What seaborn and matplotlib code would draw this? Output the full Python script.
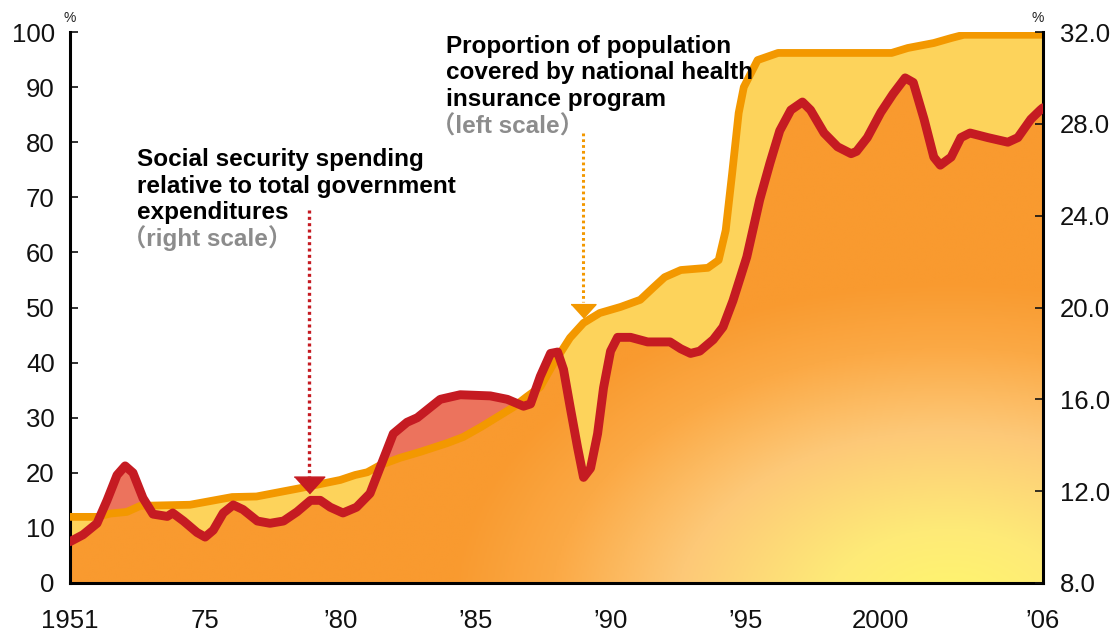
import numpy as np
import matplotlib
matplotlib.use("Agg")
import matplotlib.pyplot as plt
from matplotlib.colors import LinearSegmentedColormap
import seaborn as sns

# Proportion of population covered by national health insurance (left scale, %)
coverage_years = [1970.0, 1971.0, 1971.48, 1972.1, 1972.6, 1974.44, 1975.0, 1976.0, 1976.9,
                  1978.5, 1980.0, 1980.55, 1981.0, 1981.48, 1982.2, 1982.96, 1983.96, 1984.55,
                  1985.2, 1985.8, 1986.4, 1986.9, 1987.4, 1987.9, 1988.5, 1989.0, 1989.6,
                  1990.37, 1991.1, 1991.6, 1992.0, 1992.6, 1993.6, 1994.0, 1994.26, 1994.5,
                  1994.74, 1994.93, 1995.44, 1996.2, 2000.4, 2001.0, 2001.96, 2002.6, 2003.07,
                  2006.0]
coverage_pct = [12.0, 12.0, 12.6, 12.9, 14.0, 14.2, 14.7, 15.6, 15.7,
                17.2, 18.7, 19.6, 20.1, 21.4, 22.7, 23.8, 25.4, 26.5,
                28.3, 30.1, 31.9, 33.8, 35.6, 39.9, 44.5, 47.2, 49.0,
                50.1, 51.4, 53.7, 55.5, 56.8, 57.2, 58.6, 64.0, 74.4,
                85.3, 90.0, 94.9, 96.2, 96.2, 97.1, 98.0, 98.9, 99.5,
                99.5]

# Social security spending relative to total government expenditures (right scale, %)
spending_years = [1970.0, 1970.48, 1971.0, 1971.37, 1971.74, 1972.04, 1972.33, 1972.7, 1973.07,
                  1973.6, 1973.8, 1974.2, 1974.7, 1975.0, 1975.3, 1975.67, 1976.04, 1976.4,
                  1976.93, 1977.4, 1977.9, 1978.4, 1978.9, 1979.26, 1979.63, 1980.1, 1980.6,
                  1981.1, 1981.48, 1981.96, 1982.47, 1982.85, 1983.7, 1984.44, 1985.55, 1986.18,
                  1986.78, 1987.04, 1987.4, 1987.78, 1988.04, 1988.26, 1988.5, 1988.78, 1989.0,
                  1989.26, 1989.52, 1989.74, 1990.0, 1990.26, 1990.74, 1991.37, 1992.2, 1992.6,
                  1992.96, 1993.3, 1993.8, 1994.16, 1994.53, 1995.04, 1995.52, 1995.9, 1996.26,
                  1996.67, 1997.1, 1997.4, 1997.9, 1998.4, 1998.9, 1999.1, 1999.5, 2000.0,
                  2000.45, 2000.9, 2001.2, 2001.6, 2001.96, 2002.2, 2002.6, 2002.96, 2003.3,
                  2003.96, 2004.7, 2005.07, 2005.55, 2005.9, 2006.0]
spending_pct = [9.8, 10.1, 10.6, 11.6, 12.7, 13.1, 12.8, 11.7, 11.0,
                10.9, 11.05, 10.7, 10.2, 10.0, 10.3, 11.05, 11.4, 11.2,
                10.7, 10.6, 10.7, 11.1, 11.6, 11.6, 11.3, 11.05, 11.3,
                11.9, 13.05, 14.5, 15.0, 15.2, 16.0, 16.2, 16.15, 16.0,
                15.7, 15.8, 17.0, 18.0, 18.06, 17.3, 15.7, 13.9, 12.6,
                13.0, 14.5, 16.5, 18.1, 18.7, 18.7, 18.5, 18.5, 18.2,
                18.0, 18.1, 18.6, 19.15, 20.3, 22.2, 24.7, 26.3, 27.7,
                28.6, 28.95, 28.6, 27.6, 27.0, 26.7, 26.8, 27.4, 28.5,
                29.3, 30.0, 29.8, 28.2, 26.55, 26.2, 26.55, 27.4, 27.6,
                27.4, 27.2, 27.4, 28.2, 28.6, 28.7]

# Axis ticks and labels
x_tick_years = [1970, 1975, 1980, 1985, 1990, 1995, 2000, 2006]
x_tick_labels = ["1951", "75", "\u201980", "\u201985", "\u201990", "\u201995", "2000", "\u201906"]
left_ticks = list(range(0, 101, 10))
right_ticks = [8.0, 12.0, 16.0, 20.0, 24.0, 28.0, 32.0]

# Annotation texts
spending_label = ["Social security spending", "relative to total government", "expenditures"]
spending_scale = "\uff08right scale\uff09"
coverage_label = ["Proportion of population", "covered by national health", "insurance program"]
coverage_scale = "\uff08left scale\uff09"

ORANGE = "#F39800"
RED = "#C51B22"
YELLOW_FILL = "#FDD35B"
SALMON_FILL = "#EC735D"

sns.set_theme(style="white")
plt.rcParams["font.family"] = ["Liberation Sans", "Noto Sans CJK JP", "DejaVu Sans"]

W, H = 1117, 633
fig = plt.figure(figsize=(W / 100, H / 100), dpi=100)
fig.patch.set_facecolor("white")
ax = fig.add_axes([70 / W, (H - 583) / H, 973 / W, 551 / H])
ax2 = ax.twinx()

XMIN, XMAX = 1970, 2006
LMIN, LMAX = 0, 100
RMIN, RMAX = 8.0, 32.0
ax.set_xlim(XMIN, XMAX)
ax.set_ylim(LMIN, LMAX)
ax2.set_ylim(RMIN, RMAX)

# Common grid for the area fills (right-scale series expressed in left-scale units)
xs = np.linspace(XMIN, XMAX, 3000)
cov_i = np.interp(xs, coverage_years, coverage_pct)
sp_i = np.interp(xs, spending_years, spending_pct)
sp_left = (sp_i - RMIN) / (RMAX - RMIN) * (LMAX - LMIN) + LMIN
lower = np.minimum(cov_i, sp_left)

ax.fill_between(xs, 0, cov_i, color=YELLOW_FILL, lw=0, zorder=1)
ax.fill_between(xs, 0, sp_left, color=SALMON_FILL, lw=0, zorder=1.1)
base = ax.fill_between(xs, 0, lower, facecolor="none", lw=0, zorder=1.2)

# Radial orange-to-yellow gradient under both series
gx = np.linspace(XMIN, XMAX, 600)
gy = np.linspace(LMIN, LMAX, 400)
GX, GY = np.meshgrid(gx, gy)
px = 70 + (GX - XMIN) / (XMAX - XMIN) * 973
py = 583 - (GY - LMIN) / (LMAX - LMIN) * 551
cx, cy, rx, ry = 950, 612, 500, 330
t = np.clip(np.sqrt(((px - cx) / rx) ** 2 + ((py - cy) / ry) ** 2), 0, 1)
grad_cmap = LinearSegmentedColormap.from_list(
    "warm", [(0.0, "#FFF76C"), (0.25, "#FEEA78"), (0.55, "#FDC877"),
             (0.8, "#FBA945"), (1.0, "#F99A2F")])
img = ax.imshow(t, extent=[XMIN, XMAX, LMIN, LMAX], origin="lower", aspect="auto",
                cmap=grad_cmap, vmin=0, vmax=1, zorder=1.3, interpolation="bilinear")
img.set_clip_path(base.get_paths()[0], transform=ax.transData)
ax.set_xlim(XMIN, XMAX)
ax.set_ylim(LMIN, LMAX)

# Series lines
sns.lineplot(x=coverage_years, y=coverage_pct, ax=ax, color=ORANGE, linewidth=5.6,
             zorder=3, solid_joinstyle="round", solid_capstyle="butt")
sns.lineplot(x=spending_years, y=spending_pct, ax=ax2, color=RED, linewidth=6.4,
             zorder=4, solid_joinstyle="round", solid_capstyle="round")

# Pointer arrows
tri = [(-1, 0.55), (1, 0.55), (0, -0.55)]
sp_arrow_x = 1978.84
ax2.plot([sp_arrow_x, sp_arrow_x], [24.25, 12.6], color=RED, lw=2.4,
         linestyle=(0, (0.9, 1.0)), zorder=5)
ax2.plot([sp_arrow_x], [12.28], marker=tri, markersize=22, color=RED, zorder=6, lw=0)
cov_arrow_x = 1988.98
ax2.plot([cov_arrow_x, cov_arrow_x], [81.7, 51.0], color=ORANGE, lw=2.2,
         linestyle=(0, (0.9, 1.0)), zorder=5, transform=ax.transData)
ax2.plot([cov_arrow_x], [49.3], marker=tri, markersize=18, color=ORANGE, zorder=6, lw=0,
         transform=ax.transData)
ax2.set_ylim(RMIN, RMAX)
ax2.set_xlim(XMIN, XMAX)

# Axes styling
for a in (ax, ax2):
    a.grid(False)
    a.spines["top"].set_visible(False)
    for s in ("left", "right", "bottom"):
        a.spines[s].set_linewidth(2.2)
        a.spines[s].set_color("black")
    a.set_xlabel("")
    a.set_ylabel("")
ax.spines["right"].set_visible(False)
ax2.spines["left"].set_visible(False)
ax2.spines["bottom"].set_visible(False)

tick_font = dict(fontsize=18.5, color="#111111")
ax.set_yticks(left_ticks)
ax.set_yticklabels([str(v) for v in left_ticks], **tick_font)
ax.set_xticks(x_tick_years)
ax.set_xticklabels(x_tick_labels, **tick_font)
ax.set_xticks(range(XMIN, XMAX + 1), minor=True)
ax.tick_params(axis="y", direction="in", length=6, width=1.2, pad=11, left=True,
               colors="#111111")
ax.tick_params(axis="x", which="both", direction="in", length=6, width=1.2, pad=19,
               bottom=True, colors="#333333")
ax.tick_params(axis="x", labelcolor="#111111")
ax2.set_yticks(right_ticks)
ax2.set_yticklabels([f"{v:.1f}" for v in right_ticks], **tick_font)
ax2.tick_params(axis="y", direction="in", length=6, width=1.2, pad=12, right=True,
                colors="#111111")

# Unit marks above the axes
fig.text(70 / W, 1 - 18 / H, "%", fontsize=10, ha="center", va="center", color="#222222")
fig.text(1038 / W, 1 - 18 / H, "%", fontsize=10, ha="center", va="center", color="#222222")

# Series labels
label_font = dict(fontsize=17.5, fontweight="bold", ha="left", va="baseline")
for i, line in enumerate(spending_label):
    fig.text(137 / W, 1 - (166 + 26.5 * i) / H, line, color="black", **label_font)
fig.text(122 / W, 1 - 246 / H, spending_scale, color="#8C8C8C", **label_font)
for i, line in enumerate(coverage_label):
    fig.text(446 / W, 1 - (53 + 26.5 * i) / H, line, color="black", **label_font)
fig.text(431 / W, 1 - 134 / H, coverage_scale, color="#8C8C8C", **label_font)

fig.savefig("out.png", dpi=100)
